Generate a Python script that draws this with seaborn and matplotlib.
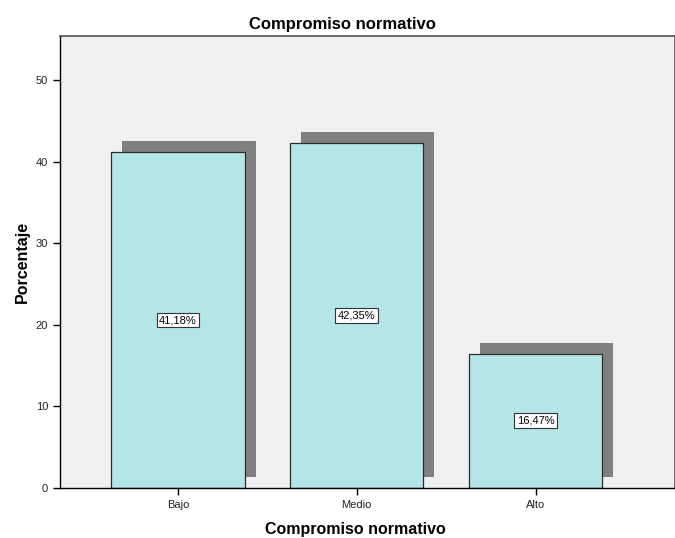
import matplotlib
matplotlib.use("Agg")
import matplotlib.pyplot as plt
import matplotlib.transforms as mtransforms
import seaborn as sns
import pandas as pd

# data
categories = ["Bajo", "Medio", "Alto"]
percentages = [41.18, 42.35, 16.47]
bar_labels = ["41,18%", "42,35%", "16,47%"]

df = pd.DataFrame({"nivel": categories, "pct": percentages})

sns.set_style("white")
plt.rcParams["font.family"] = ["Liberation Sans", "DejaVu Sans"]
plt.rcParams["text.color"] = "black"
plt.rcParams["axes.labelcolor"] = "black"

fig = plt.figure(figsize=(6.75, 5.38), dpi=100)
ax = fig.add_axes([0.0889, 0.093, 0.911, 0.84])
ax.set_facecolor("#f0f0f0")

# drop shadows: same bars, shifted right/up by a few pixels
sns.barplot(data=df, x="nivel", y="pct", color="#808080", width=0.745,
            saturation=1, ax=ax, linewidth=0, zorder=1)
shift = mtransforms.offset_copy(ax.transData, fig=fig, x=11, y=11, units="dots")
for p in ax.patches:
    p.set_transform(shift)

sns.barplot(data=df, x="nivel", y="pct", color="#b4e6e8", width=0.745,
            saturation=1, ax=ax, edgecolor="#2b2b2b", linewidth=0.9, zorder=2)

for i, (v, lab) in enumerate(zip(percentages, bar_labels)):
    ax.text(i, v / 2, lab, ha="center", va="center", fontsize=8, zorder=3,
            bbox=dict(boxstyle="square,pad=0.22", fc="white", ec="#333333", lw=0.8))

ax.set_xlim(-0.66, 2.78)
ax.set_ylim(0, 55.4)
ax.set_yticks([0, 10, 20, 30, 40, 50])
ax.tick_params(axis="both", direction="out", length=5, width=1, labelsize=8,
               left=True, bottom=True, color="black", labelcolor="#222222")

for side in ["left", "bottom"]:
    ax.spines[side].set_color("black")
    ax.spines[side].set_linewidth(1)
for side in ["top", "right"]:
    ax.spines[side].set_color("#555555")
    ax.spines[side].set_linewidth(1.2)

ax.set_title("Compromiso normativo", fontsize=12, fontweight="bold", pad=5, x=0.46)
ax.set_xlabel("Compromiso normativo", fontsize=11.5, fontweight="bold", labelpad=9)
ax.xaxis.set_label_coords(0.481, -0.075)
ax.set_ylabel("Porcentaje", fontsize=11.5, fontweight="bold", labelpad=4)

fig.savefig("out.png", dpi=100)
